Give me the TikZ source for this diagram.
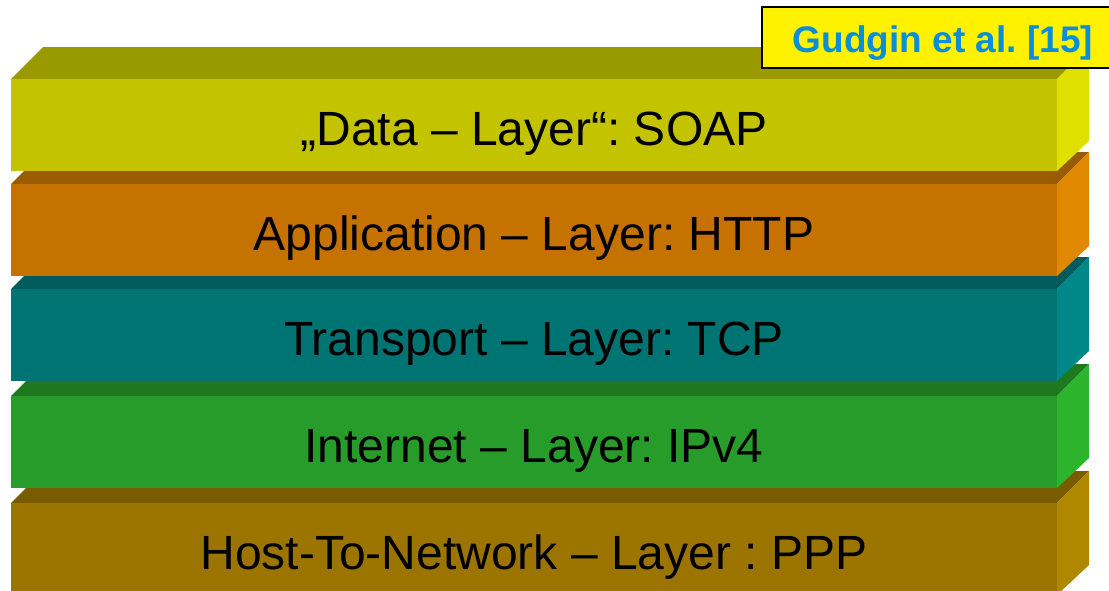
\documentclass[tikz,border=0pt]{standalone}
\usepackage{fontspec}
\setmainfont{Liberation Sans}
\definecolor{yfront}{HTML}{C4C300}
\definecolor{ytop}{HTML}{999900}
\definecolor{yside}{HTML}{E0E000}
\definecolor{ofront}{HTML}{C57200}
\definecolor{otop}{HTML}{9A5C00}
\definecolor{oside}{HTML}{E08800}
\definecolor{tfront}{HTML}{007373}
\definecolor{ttop}{HTML}{005C5C}
\definecolor{tside}{HTML}{008888}
\definecolor{gfront}{HTML}{289C2A}
\definecolor{gtop}{HTML}{1E781E}
\definecolor{gside}{HTML}{2DB42D}
\definecolor{bfront}{HTML}{9C7400}
\definecolor{btop}{HTML}{7A5C00}
\definecolor{bside}{HTML}{B08800}
\definecolor{refblue}{HTML}{0A8ED8}
\frenchspacing
\begin{document}
\begin{tikzpicture}[x=1pt,y=-1pt,
  layerbox/.style={rectangle, inner sep=0pt, minimum width=1046pt, minimum height=92pt,
    font=\fontsize{48}{50}\selectfont, text=black},
  refbox/.style={rectangle, draw=black, line width=1.6pt, fill=yellow, inner sep=0pt,
    minimum width=352pt, minimum height=61pt, font=\bfseries\fontsize{37}{40}\selectfont, text=refblue}]
\useasboundingbox (0,0) rectangle (1109,590);
% each layer: top face, side face, front face (bottom layer first)
\newcommand{\stacklayer}[6]{%
  \coordinate (#1nw) at (11,#2);
  \coordinate (#1ne) at (1057,#2);
  \coordinate (#1se) at (1057,#2+92);
  \fill[#4] (#1nw) -- ++(32,-32) -- ++(1046,0) -- (#1ne) -- cycle;
  \fill[#5] (#1ne) -- ++(32,-32) -- ++(0,94) -- (#1se) -- cycle;
  \node[layerbox, fill=#3] (#1) at (534,#2+46) {\raisebox{-20pt}[0pt][0pt]{#6}};
}
\stacklayer{host}{503}{bfront}{btop}{bside}{Host-To-Network – Layer : PPP}
\stacklayer{inet}{396}{gfront}{gtop}{gside}{Internet – Layer: IPv4}
\stacklayer{trans}{289}{tfront}{ttop}{tside}{Transport – Layer: TCP}
\stacklayer{app}{184}{ofront}{otop}{oside}{Application – Layer: HTTP}
\stacklayer{data}{79}{yfront}{ytop}{yside}{„Data – Layer“: SOAP}
\node[refbox] (ref) at (938,37.5) {\hspace*{10pt}\raisebox{-14.5pt}[0pt][0pt]{Gudgin et al. [15]}};
\end{tikzpicture}
\end{document}
